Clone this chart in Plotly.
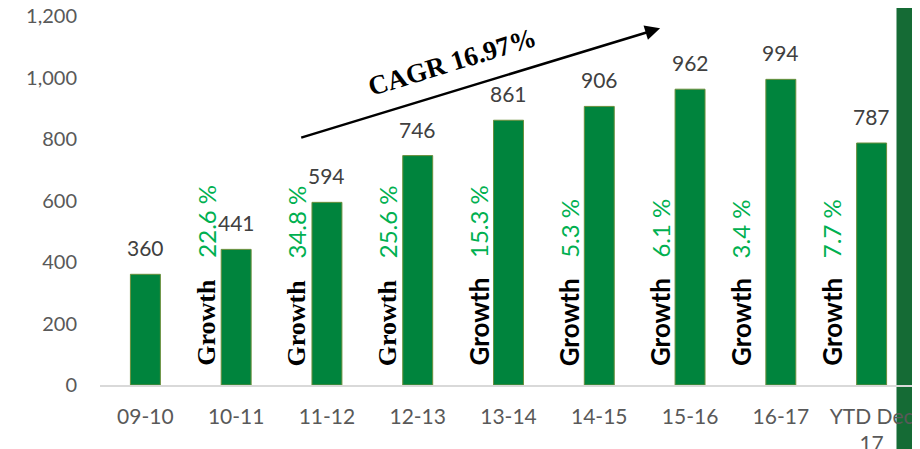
import plotly.graph_objects as go

categories = ["09-10", "10-11", "11-12", "12-13", "13-14", "14-15", "15-16", "16-17", "YTD Dec<br>17"]
values = [360, 441, 594, 746, 861, 906, 962, 994, 787]
growth = [None, "22.6 %", "34.8 %", "25.6 %", "15.3 %", "5.3 %", "6.1 %", "3.4 %", "7.7 %"]
growth_serif = [False, True, True, True, False, False, False, False, False]
y_ticks = [0, 200, 400, 600, 800, 1000, 1200]
cagr_text = "CAGR 16.97%"

SANS = "Lato, 'Open Sans', sans-serif"
SERIF = "'Liberation Serif', 'Times New Roman', serif"

# page body has an 8px offset; plot area in the window spans x 100..917, y 16..385
ML, MT = 92, 8
PLOT_W = 817
W, H = 920, 441
MR = W - ML - PLOT_W
MB = H - MT - 369

fig = go.Figure()
fig.add_trace(go.Bar(
    x=list(range(len(categories))), y=values, width=0.33,
    marker=dict(color="#00843D", line=dict(color="#6A8F3C", width=1)),
    hoverinfo="skip",
))

ann = []
for i, v in enumerate(values):
    ann.append(dict(x=i, y=v, xref="x", yref="y", text=str(v), showarrow=False,
                    yanchor="bottom", yshift=12,
                    font=dict(family=SANS, size=21, color="#404040")))

PX_PER_UNIT = 369 / 1200.0
for i, g in enumerate(growth):
    if g is None:
        continue
    off = -0.44 if i >= 7 else -0.33
    fam = SERIF if growth_serif[i] else SANS
    ann.append(dict(x=i + off, y=(385 - 368) / PX_PER_UNIT, xref="x", yref="y",
                    text="<b>Growth</b>", showarrow=False, textangle=-90,
                    xanchor="center", yanchor="bottom",
                    font=dict(family=fam, size=26, color="#000000")))
    ann.append(dict(x=i + off, y=(385 - 260) / PX_PER_UNIT, xref="x", yref="y",
                    text=g, showarrow=False, textangle=-90,
                    xanchor="center", yanchor="bottom",
                    font=dict(family=SANS, size=24, color="#00B050")))

ann.append(dict(x=5.67, y=1160, ax=1.70, ay=803, xref="x", yref="y", axref="x", ayref="y",
                text="", showarrow=True, arrowhead=2, arrowsize=1.2, arrowwidth=2.5,
                arrowcolor="#000000"))
ann.append(dict(x=3.38, y=1052, xref="x", yref="y", text="<b>" + cagr_text + "</b>",
                showarrow=False, textangle=-17,
                font=dict(family=SERIF, size=27, color="#000000")))

fig.update_layout(
    width=W, height=H,
    margin=dict(l=ML, r=MR, t=MT, b=MB, autoexpand=False),
    paper_bgcolor="white", plot_bgcolor="rgba(0,0,0,0)",
    showlegend=False,
    annotations=ann,
    shapes=[dict(type="rect", xref="paper", yref="paper", x0=(896.5 - 100) / PLOT_W, x1=1.05,
                 y0=-0.5, y1=1.1, fillcolor="#156B35", line=dict(width=0), layer="below")],
    xaxis=dict(tickmode="array", tickvals=list(range(len(categories))), ticktext=categories,
               range=[-0.5, 8.5], showgrid=False, zeroline=False, automargin=False,
               showline=True, linecolor="#D9D9D9", linewidth=1.5, ticks="",
               ticklabelstandoff=12, ticklabeloverflow="allow",
               tickfont=dict(family=SANS, size=21, color="#595959")),
    yaxis=dict(range=[0, 1200], tickvals=y_ticks, tickformat=",d", showgrid=False,
               zeroline=False, showline=False, ticks="", ticklabelstandoff=22,
               ticklabeloverflow="allow", automargin=False,
               tickfont=dict(family=SANS, size=20, color="#595959")),
)

fig.write_html("out.html")
